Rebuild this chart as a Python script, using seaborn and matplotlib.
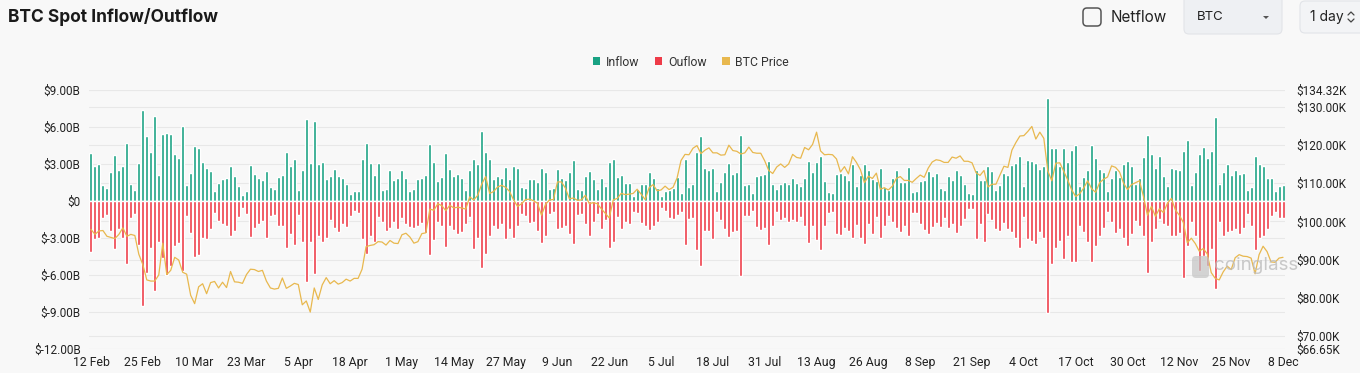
import numpy as np
import pandas as pd
import matplotlib
matplotlib.use("Agg")
import matplotlib.pyplot as plt
import seaborn as sns
from matplotlib.patches import Patch, FancyBboxPatch, Polygon
from matplotlib.lines import Line2D
from matplotlib.transforms import IdentityTransform

# daily spot flows, billions USD, 12 Feb -> 8 Dec
inflow = [
    3.9, 2.8, 3.0, 1.3, 1.05, 2.35, 3.7, 2.5, 2.8, 4.7, 1.35, 0.9, 3.1, 7.4, 5.3, 4.0, 6.9, 2.1, 5.4, 5.5,
    5.4, 3.8, 3.5, 6.05, 1.3, 2.25, 4.5, 4.3, 3.2, 2.65, 2.4, 0.85, 1.45, 1.8, 1.9, 2.85, 2.05, 1.2, 0.5, 0.85,
    2.9, 2.15, 1.85, 1.7, 2.45, 1.1, 0.95, 1.95, 2.1, 3.95, 2.8, 3.4, 0.9, 2.5, 6.65, 3.1, 6.5, 3.0,
    3.15, 1.75, 2.0, 2.6, 2.0, 1.9, 1.4, 0.55, 0.85, 0.85, 3.4, 4.7, 3.1, 2.1, 3.1, 0.9, 1.0, 2.5, 1.7, 1.85,
    2.55, 1.9, 0.85, 1.0, 1.8, 1.85, 2.1, 4.6, 3.2, 1.6, 1.95, 3.9, 2.6, 2.0, 2.15, 1.85, 0.9, 2.5, 3.4, 3.0,
    5.7, 3.95, 3.4, 1.75, 2.0, 1.85, 2.75, 1.8, 2.85, 2.65, 1.15, 1.05, 1.75, 1.75, 1.55, 2.7, 2.35,
    0.97, 1.08, 2.57, 1.89, 1.73, 2.35, 3.3, 0.97, 0.89, 2.03, 2.4, 1.76, 0.97, 1.89, 1.24, 3.16, 3.38, 1.92,
    2.11, 1.46, 1.46, 0.43, 0.97, 1.35, 1.41, 2.38, 1.84, 1.08, 0.43, 0.78, 0.86, 1.08, 1.95, 0.68, 3.41, 1.14,
    1.35, 4.0, 5.24, 2.65, 2.49, 2.7, 0.84, 1.51, 2.32, 3.08, 2.16, 2.35, 5.32, 1.27, 1.41, 0.65, 2.05, 2.11,
    2.22, 3.27, 1.35, 0.97,
    1.41, 1.51, 1.41, 1.89, 1.46, 1.19, 1.84, 3.24, 2.32, 3.19, 3.62, 1.62, 0.76, 0.65, 2.16, 2.27, 2.11, 1.73,
    3.03, 1.19, 2.11, 2.97, 2.54, 1.78, 1.62, 2.65, 1.14, 0.86, 1.84, 2.49, 1.57, 1.57, 2.76, 0.70, 0.81, 1.62,
    1.73, 2.43, 2.05, 2.27, 1.08, 0.92, 2.0, 1.68, 2.54, 2.11, 1.35, 0.65, 0.54, 2.49, 1.73, 1.73, 2.86, 2.43,
    0.86, 1.30, 2.27,
    2.11, 2.92, 3.08, 3.68, 1.24, 3.35, 3.24, 3.08, 2.59, 2.81, 8.32, 4.27, 4.27, 2.86, 4.32, 3.19, 4.11, 4.54,
    1.24, 1.95, 2.49, 4.54, 3.51, 2.59, 2.32, 0.81, 1.84, 2.54, 1.95, 2.97, 3.24, 2.81, 1.35, 1.84, 3.57, 5.35,
    3.78, 2.70, 3.68, 2.0, 1.24, 2.70, 2.59, 2.49, 4.05, 4.97, 1.30, 2.32, 3.78, 4.38, 3.46, 4.05, 6.81, 1.35,
    2.32, 2.97, 2.11, 2.54, 2.22, 2.27, 0.86, 1.14, 3.68, 2.97, 2.86, 1.84, 1.89, 0.81, 1.24, 1.3,
]
outflow = [
    4.15, 3.1, 3.0, 1.4, 1.15, 2.4, 3.9, 2.3, 3.0, 5.1, 1.35, 1.05, 3.6, 8.55, 5.8, 3.8, 7.3, 3.3, 4.6, 6.0,
    5.25, 3.65, 3.4, 5.7, 1.2, 2.6, 4.5, 4.4, 3.0, 3.1, 2.3, 0.95, 1.6, 1.85, 2.0, 2.8, 2.4, 1.3, 0.55, 1.05,
    2.9, 2.2, 1.85, 1.65, 3.0, 1.25, 1.1, 2.0, 2.05, 3.85, 2.7, 3.6, 1.15, 3.35, 6.6, 3.35, 5.95, 2.8,
    3.3, 3.0, 1.5, 2.2, 2.5, 1.9, 2.1, 1.25, 0.85, 0.95, 3.1, 4.3, 2.8, 3.3, 1.3, 1.7, 2.4, 2.2, 1.7, 2.3,
    1.4, 1.9, 2.1, 2.2, 2.0, 1.8, 2.6, 4.4, 3.2, 1.7, 2.0, 3.75, 2.0, 2.35, 2.7, 2.5, 1.9, 1.3, 3.9, 3.0,
    5.4, 4.3, 2.8, 2.05, 2.3, 1.9, 3.1, 2.25, 3.0, 2.0, 1.05, 1.2, 1.8, 1.7, 2.4, 3.4, 2.8,
    1.05, 0.86, 2.27, 2.22, 2.05, 2.65, 3.51, 1.14, 1.08, 1.86, 2.81, 1.73, 1.08, 2.27, 1.51, 3.78, 3.35, 1.32,
    2.27, 1.68, 1.86, 0.86, 0.97, 1.78, 2.0, 2.38, 2.05, 1.73, 0.54, 0.81, 1.41, 1.46, 1.14, 0.92, 3.57, 1.46,
    1.41, 4.0, 5.3, 2.43, 2.43, 3.08, 0.92, 1.51, 2.27, 2.92, 2.49, 2.43, 6.11, 1.19, 1.24, 0.78, 2.11, 2.38,
    2.22, 3.57, 2.0, 0.92,
    1.51, 1.35, 1.73, 1.51, 1.73, 1.30, 2.0, 3.41, 2.05, 3.14, 4.0, 2.0, 0.97, 0.92, 2.65, 2.76, 2.16, 2.43,
    2.97, 1.95, 2.97, 3.46, 1.89, 2.70, 1.32, 3.03, 2.0, 1.24, 1.68, 2.22, 2.49, 2.0, 2.81, 0.97, 0.97, 1.84,
    2.38, 2.70, 2.11, 1.78, 2.11, 1.35, 2.16, 1.84, 2.59, 2.0, 1.46, 0.65, 0.65, 3.08, 1.84, 3.35, 1.08, 1.57,
    2.27, 2.43, 1.78,
    2.27, 2.54, 3.03, 3.84, 1.30, 3.08, 3.24, 3.51, 2.49, 3.03, 9.08, 5.08, 3.84, 3.24, 4.70, 2.86, 4.92, 4.97,
    2.05, 2.54, 3.35, 4.97, 3.62, 2.81, 2.22, 0.86, 1.73, 2.59, 2.27, 3.03, 3.62, 2.70, 1.62, 2.0, 2.81, 5.84,
    3.35, 2.27, 1.46, 1.84, 2.0, 2.81, 2.81, 2.59, 6.22, 3.62, 1.73, 2.81, 5.68, 4.43, 5.24, 3.89, 7.14, 1.73,
    2.81, 2.49, 2.43, 2.27, 2.65, 2.16, 1.08, 2.0, 4.00, 2.97, 2.81, 2.27, 1.19, 0.86, 1.35, 1.35,
]
# BTC close, thousands USD
price = [
    97.9, 96.6, 97.5, 97.6, 96.1, 95.8, 95.5, 96.6, 98.3, 96.1, 96.6, 96.3, 91.4, 88.7, 84.7, 84.4, 84.4,
    86.0, 94.3, 86.1, 87.2, 90.6, 89.9, 86.7, 86.2, 80.7, 78.5, 82.9, 83.7, 81.1, 84.0, 84.3, 82.6, 84.1,
    82.7, 86.9, 84.2, 84.1, 83.8, 86.1, 87.5, 87.4, 86.9, 87.2, 84.4, 82.6, 82.3, 82.5,
    85.2, 82.5, 83.1, 83.8, 83.5, 78.2, 79.2, 76.3, 82.6, 79.6, 83.4, 85.3, 83.7, 84.5, 83.6, 84.0, 84.9,
    84.4, 85.1, 85.1, 87.5, 93.4, 93.7, 93.9, 94.7, 94.6, 93.8, 95.0, 94.3, 94.2,
    96.5, 96.9, 95.9, 94.3, 94.7, 96.8, 97.0, 103.2, 102.9, 104.6, 104.1, 102.8, 104.2, 103.5, 103.7, 103.5,
    103.2, 106.4, 105.6, 106.8, 109.7, 111.7, 107.3, 107.8, 109.0, 109.4, 108.9, 107.8, 105.6, 103.9, 104.6,
    105.7, 105.8, 105.4, 104.7, 101.6, 104.4, 105.6, 105.7, 110.3, 110.3, 108.7, 105.9, 106.1, 105.5, 105.6,
    106.8, 104.6, 104.9, 104.6, 103.3, 102.1, 100.9, 105.6, 106.0, 107.3, 107.0, 107.1, 107.3, 108.4, 107.1,
    105.7, 108.8, 109.6, 108.0, 108.2, 109.2, 108.3, 108.9, 111.3, 115.9, 117.5, 117.4, 119.1, 119.8, 117.7,
    118.6, 119.2, 117.9, 117.9, 117.3, 117.4, 119.9, 118.5, 118.3, 117.6, 117.9, 119.4, 118.0, 117.8, 117.8, 115.8,
    113.3, 112.5, 114.2, 115.0, 114.1, 115.0, 117.5, 116.7, 116.5, 119.3, 118.7, 120.1, 123.3, 118.4, 117.4,
    117.5, 117.4, 116.3, 112.9, 114.3, 112.4, 116.9, 115.4, 113.5, 110.1, 111.8, 111.2, 112.6, 108.4, 108.8, 108.2,
    109.2, 111.2, 111.7, 110.7, 110.7, 110.2, 111.2, 112.1, 111.5, 113.9, 115.5, 116.1, 115.9, 115.4, 115.4,
    116.8, 116.5, 117.1, 115.7, 115.7, 115.3, 112.7, 112.0, 113.3, 109.0, 109.7, 109.7, 112.1, 114.4, 114.1,
    118.6, 120.6, 122.3, 122.4, 123.5, 124.8, 121.5, 123.3, 121.7, 113.2, 110.6, 115.2, 115.3, 113.1, 110.8,
    108.2, 106.5, 107.2, 108.7, 110.6, 108.5, 107.6, 110.1, 111.0, 111.6, 114.5, 114.1, 112.9, 110.0, 108.3, 109.6,
    110.1, 110.6, 106.5, 101.6, 103.9, 101.3, 103.3, 102.3, 104.7, 106.0, 103.0, 101.6, 99.7, 94.4, 95.6,
    94.2, 92.2, 92.9, 91.5, 86.6, 85.1, 84.7, 86.8, 88.3, 87.4, 90.5, 91.3, 90.9, 90.8, 90.4,
    86.3, 91.3, 93.5, 92.1, 89.4, 89.3, 90.4, 90.6,
]
left_ticks = [-12, -9, -6, -3, 0, 3, 6, 9]
right_ticks = [66.65, 70, 80, 90, 100, 110, 120, 130, 134.32]
legend_labels = ["Inflow", "Ouflow", "BTC Price"]

assert len(inflow) == len(outflow) == len(price)

GREEN = "#19a283"
RED = "#ee3b48"
GOLD = "#e8b84e"
BG = "#f8f8f8"
GRID = "#e8e8e8"
W, H = 1360, 373

dates = pd.date_range("2025-02-12", periods=len(price), freq="D")
df = pd.DataFrame({"day": np.arange(len(dates)), "inflow": inflow,
                   "outflow": -np.array(outflow), "price": price})

sns.set_theme(style="white")
plt.rcParams["font.family"] = ["Roboto", "DejaVu Sans"]

fig = plt.figure(figsize=(W / 100, H / 100), dpi=100, facecolor=BG)
ax = fig.add_axes([89 / W, 1 - 349 / H, (1285 - 89) / W, (349 - 90) / H])
ax.set_facecolor(BG)

sns.barplot(data=df, x="day", y="inflow", color=GREEN, saturation=1, width=0.75, ax=ax, zorder=2)
sns.barplot(data=df, x="day", y="outflow", color=RED, saturation=1, width=0.75, ax=ax, zorder=2)

ax2 = ax.twinx()
sns.lineplot(data=df, x="day", y="price", color=GOLD, linewidth=0.9, ax=ax2)

lo, hi = left_ticks[0], left_ticks[-1]
plo, phi = right_ticks[0], right_ticks[-1]
ax.set_ylim(lo, hi)
ax2.set_ylim(plo, phi)
ax.set_xlim(-0.5, len(df) - 0.5)

# grid lines of both axes, kept behind the bars
ax.set_axisbelow(True)
ax.set_yticks(left_ticks)
ax.set_yticklabels(["$0" if v == 0 else f"${v:.2f}B" for v in left_ticks])
ax.grid(axis="y", color=GRID, linewidth=0.8)
for v in right_ticks:
    ax.axhline(lo + (v - plo) / (phi - plo) * (hi - lo), color=GRID, linewidth=0.8, zorder=0.5)
ax2.set_yticks(right_ticks)
ax2.set_yticklabels([f"${v:.2f}K" for v in right_ticks])
ax2.grid(False)

xt = list(range(0, len(df), 13))
if xt[-1] != len(df) - 1:
    xt.append(len(df) - 1)
ax.set_xticks(xt)
ax.set_xticklabels([f"{dates[i].day} {dates[i].strftime('%b')}" for i in xt])

for a in (ax, ax2):
    a.set_xlabel("")
    a.set_ylabel("")
    for s in a.spines.values():
        s.set_visible(False)
ax.tick_params(axis="y", length=0, pad=6, labelsize=8.5, colors="#222")
ax.tick_params(axis="x", length=0, pad=5, labelsize=8.8, colors="#222")
ax2.tick_params(axis="y", length=0, pad=8, labelsize=8.5, colors="#222")

# legend
handles = [Patch(facecolor=c, edgecolor="none") for c in (GREEN, RED, GOLD)]
fig.legend(handles, legend_labels, loc="center", bbox_to_anchor=(691 / W, 1 - 62 / H), ncol=3,
           frameon=False, fontsize=8.8, handlelength=0.6, handleheight=0.6, handletextpad=0.45,
           columnspacing=1.3, labelcolor="#333")

# watermark
px = IdentityTransform()
fig.add_artist(FancyBboxPatch((1192, H - 278), 17, 22, boxstyle="round,pad=0,rounding_size=4",
                              transform=px, fc="#c4c4c4", ec="none", alpha=0.7, zorder=5))
fig.text(1214, H - 266, "coinglass", transform=px, fontsize=13.5, color="#bdbdbd", alpha=0.8,
         ha="left", va="center", family=["Inter", "DejaVu Sans"], zorder=5)

# header
fig.text(8, H - 17, "BTC Spot Inflow/Outflow", transform=px, fontsize=12.5, weight="bold",
         color="#1a1a1a", va="center", family=["Inter", "DejaVu Sans"])
fig.add_artist(FancyBboxPatch((1083, H - 26), 18, 18, boxstyle="round,pad=0,rounding_size=4",
                              transform=px, fc="none", ec="#555", lw=1.1))
fig.text(1111, H - 17, "Netflow", transform=px, fontsize=11, color="#222", va="center",
         family=["Inter", "DejaVu Sans"])
fig.add_artist(FancyBboxPatch((1184, H - 34), 98, 44, boxstyle="round,pad=0,rounding_size=5",
                              transform=px, fc="#eef0f3", ec="#e2e4e8", lw=0.8))
fig.text(1197, H - 17, "BTC", transform=px, fontsize=9.5, color="#222", va="center",
         family=["Inter", "DejaVu Sans"])
fig.add_artist(Polygon([(1263, H - 16), (1269, H - 16), (1266, H - 19)], closed=True,
                       transform=px, fc="#555", ec="none"))
fig.add_artist(FancyBboxPatch((1300, H - 33), 80, 32, boxstyle="round,pad=0,rounding_size=5",
                              transform=px, fc="#f3f4f6", ec="#e2e4e8", lw=0.8))
fig.text(1310, H - 17, "1 day", transform=px, fontsize=10, color="#222", va="center",
         family=["Inter", "DejaVu Sans"])
fig.add_artist(Line2D([1348, 1351, 1354], [H - 15, H - 12, H - 15], transform=px, color="#444", lw=0.9))
fig.add_artist(Line2D([1348, 1351, 1354], [H - 19, H - 22, H - 19], transform=px, color="#444", lw=0.9))

fig.savefig("out.png", dpi=100, facecolor=BG)
